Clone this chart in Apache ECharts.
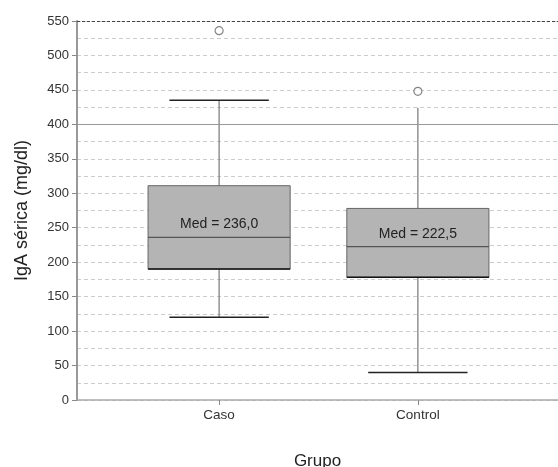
<!DOCTYPE html>
<html>
<head>
<meta charset="utf-8">
<script src="https://cdn.jsdelivr.net/npm/echarts@6/dist/echarts.min.js"></script>
<style>
  html, body { margin: 0; padding: 0; background: #fff; }
  #main { width: 558px; height: 467px; }
</style>
</head>
<body>
<div id="main"></div>
<script>
// datos
var categorias = ['Caso', 'Control'];
var posiciones = [1, 2];
var bigoteInf = [120, 40];
var q1 = [190, 178];
var mediana = [236, 222.5];
var q3 = [311, 278];
var bigoteSup = [435, 424];
var tapaSup = [true, false];
var etiquetasMed = ['Med = 236,0', 'Med = 222,5'];
var atipicos = [[1, 536], [2, 448]];

var myChart = echarts.init(document.getElementById('main'));

var cajas = [];
for (var i = 0; i < categorias.length; i++) {
  cajas.push([posiciones[i], bigoteInf[i], q1[i], mediana[i], q3[i], bigoteSup[i], i]);
}

function dibujaCaja(params, api) {
  var x = api.value(0);
  var idx = api.value(6);
  var pMin = api.coord([x, api.value(1)]);
  var pQ1 = api.coord([x, api.value(2)]);
  var pMed = api.coord([x, api.value(3)]);
  var pQ3 = api.coord([x, api.value(4)]);
  var pMax = api.coord([x, api.value(5)]);
  var anchoCaja = api.size([0.715, 0])[0];
  var anchoTapa = api.size([0.5, 0])[0];
  var cx = pMed[0];
  var hijos = [
    { type: 'line', shape: { x1: cx, y1: pQ3[1], x2: cx, y2: pMax[1] }, style: { stroke: '#777', lineWidth: 1.2 } },
    { type: 'line', shape: { x1: cx, y1: pQ1[1], x2: cx, y2: pMin[1] }, style: { stroke: '#777', lineWidth: 1.2 } },
    { type: 'rect', shape: { x: cx - anchoCaja / 2, y: pQ3[1], width: anchoCaja, height: pQ1[1] - pQ3[1] },
      style: { fill: '#b4b4b4', stroke: '#666', lineWidth: 1 } },
    { type: 'line', shape: { x1: cx - anchoCaja / 2, y1: pQ1[1], x2: cx + anchoCaja / 2, y2: pQ1[1] }, style: { stroke: '#111', lineWidth: 1.5 } },
    { type: 'line', shape: { x1: cx - anchoCaja / 2, y1: pMed[1], x2: cx + anchoCaja / 2, y2: pMed[1] }, style: { stroke: '#555', lineWidth: 1.2 } },
    { type: 'line', shape: { x1: cx - anchoTapa / 2, y1: pMin[1], x2: cx + anchoTapa / 2, y2: pMin[1] }, style: { stroke: '#222', lineWidth: 1.5 } },
    { type: 'text', x: cx, y: pMed[1] - 13,
      style: { text: etiquetasMed[idx], fill: '#222', font: '14px "Liberation Sans", Arial, sans-serif', align: 'center', verticalAlign: 'middle' } }
  ];
  if (tapaSup[idx]) {
    hijos.push({ type: 'line', shape: { x1: cx - anchoTapa / 2, y1: pMax[1], x2: cx + anchoTapa / 2, y2: pMax[1] }, style: { stroke: '#222', lineWidth: 1.5 } });
  }
  return { type: 'group', children: hijos };
}

option = {
  backgroundColor: '#fff',
  animation: false,
  textStyle: { fontFamily: '"Liberation Sans", Arial, sans-serif' },
  grid: { left: 77, right: 0, top: 21, bottom: 67, outerBoundsMode: 'none', containLabel: false },
  xAxis: {
    type: 'value',
    min: 0.285,
    max: 2.705,
    name: 'Grupo',
    nameLocation: 'middle',
    nameGap: 53,
    nameTextStyle: { fontSize: 17, color: '#222' },
    axisLine: { show: true, lineStyle: { color: '#aaa', width: 1.5 } },
    axisTick: { show: true, customValues: posiciones, length: 5, lineStyle: { color: '#888' } },
    axisLabel: {
      customValues: posiciones,
      color: '#333',
      fontSize: 13.5,
      margin: 8,
      formatter: function (v) { return categorias[Math.round(v) - 1]; }
    },
    splitLine: { show: false }
  },
  yAxis: {
    type: 'value',
    min: 0,
    max: 550,
    interval: 50,
    name: 'IgA sérica (mg/dl)',
    nameLocation: 'middle',
    nameGap: 46,
    nameTextStyle: { fontSize: 18, color: '#222' },
    axisLine: { show: true, lineStyle: { color: '#999', width: 2 } },
    axisTick: { show: true, length: 5, lineStyle: { color: '#888' } },
    axisLabel: { color: '#333', fontSize: 13, margin: 8 },
    splitLine: { show: true, lineStyle: { color: '#ccc', type: [4, 3], width: 1 } },
    minorTick: { show: false, splitNumber: 2 },
    minorSplitLine: { show: true, lineStyle: { color: '#ccc', type: [4, 3], width: 1 } }
  },
  series: [
    {
      type: 'custom',
      renderItem: dibujaCaja,
      data: cajas,
      encode: { x: 0, y: [1, 2, 3, 4, 5] },
      z: 3,
      markLine: {
        silent: true,
        symbol: 'none',
        label: { show: false },
        data: [
          { yAxis: 400, lineStyle: { color: '#999', type: 'solid', width: 1.2 } },
          { yAxis: 550, lineStyle: { color: '#444', type: [3, 2], width: 1.2 } }
        ]
      }
    },
    {
      type: 'scatter',
      data: atipicos,
      symbol: 'circle',
      symbolSize: 8,
      itemStyle: { color: '#fff', borderColor: '#666', borderWidth: 1.2 },
      z: 4
    }
  ]
};
myChart.setOption(option);
</script>
</body>
</html>
